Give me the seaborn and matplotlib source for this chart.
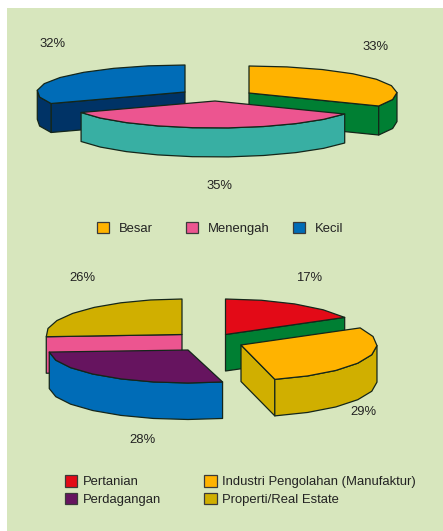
import numpy as np
import matplotlib
matplotlib.use("Agg")
import matplotlib.pyplot as plt
from matplotlib.patches import Polygon, Patch
import seaborn as sns

# ---------- data ----------
size_labels = ["Besar", "Menengah", "Kecil"]
size_values = [33, 35, 32]
sector_labels = ["Pertanian", "Industri Pengolahan (Manufaktur)", "Perdagangan", "Properti/Real Estate"]
sector_values = [17, 29, 28, 26]

# ---------- style ----------
BG = "#D7E6BD"
EDGE = "#14261A"
TXT = "#222222"
size_top = ["#FFB300", "#EC5590", "#006CB7"]
size_side = ["#007F33", "#38AFA3", "#003366"]
sector_top = ["#E30A17", "#FFB300", "#66145F", "#D0AF00"]
sector_side = ["#007F33", "#D0AF00", "#006CB7", "#EC5590"]

size_centres = [(249, 93), (215, 101), (185, 92)]
size_rx, size_ry, size_depth = [148, 148, 148], [27, 27, 27], 29
sector_centres = [(225.5, 334.5), (241, 345), (188, 350), (182, 334.5)]
sector_rx, sector_ry, sector_depth = [136, 136, 139, 136], [35.5, 35.5, 33, 35.5], 36.5

sns.set_theme(style="white")
plt.rcParams["font.family"] = ["Liberation Sans", "DejaVu Sans"]

W, H = 443, 531
L, T = 7, 8
fig = plt.figure(figsize=(W / 100, H / 100), dpi=100, facecolor="white")
ax = fig.add_axes([L / W, 0, (W - L) / W, (H - T) / H], facecolor=BG)
ax.set_xlim(L, W)
ax.set_ylim(H, T)
ax.set_xticks([])
ax.set_yticks([])
sns.despine(ax=ax, left=True, bottom=True)


def pt(c, rx, ry, deg):
    t = np.radians(deg)
    return np.column_stack([c[0] + rx * np.sin(t), c[1] - ry * np.cos(t)])


def slice3d(c, rx, ry, depth, a, b, top, side, z):
    down = np.array([0, depth])
    kw = dict(facecolor=side, edgecolor=EDGE, lw=0.9, joinstyle="round", zorder=z)
    apex = np.array(c, float)
    # cut faces that look towards the viewer
    for ang, visible in ((a, np.sin(np.radians(a)) < -1e-6), (b, np.sin(np.radians(b)) > 1e-6)):
        if visible:
            e = pt(c, rx, ry, np.array([ang]))[0]
            ax.add_patch(Polygon([apex, e, e + down, apex + down], **kw))
    # the rim is a slightly faceted polyline, like the original drawing
    angles = np.linspace(a, b, max(2, int(round((b - a) / 14))) + 1)
    rim = pt(c, rx, ry, angles)
    front = rim[(angles >= 85) & (angles <= 275)]
    if len(front) >= 2:
        ax.add_patch(Polygon(np.vstack([front, (front + down)[::-1]]), **kw))
    ax.add_patch(Polygon(np.vstack([apex, rim]), facecolor=top, edgecolor=EDGE,
                         lw=0.9, joinstyle="round", zorder=z + 0.5))


def pie3d(values, centres, rx, ry, depth, tops, sides, order):
    edges = np.concatenate([[0], np.cumsum(values)]) * 360 / np.sum(values)
    for rank, i in enumerate(order):
        slice3d(centres[i], rx[i], ry[i], depth, edges[i], edges[i + 1], tops[i], sides[i], 2 + rank)


pie3d(size_values, size_centres, size_rx, size_ry, size_depth, size_top, size_side, [2, 0, 1])
pie3d(sector_values, sector_centres, sector_rx, sector_ry, sector_depth, sector_top, sector_side, [3, 0, 2, 1])

# ---------- percentage labels ----------
size_label_xy = [(376, 47), (219, 186), (53, 44)]
sector_label_xy = [(309, 278), (363, 412), (143, 440), (82, 278)]
for vals, xys in ((size_values, size_label_xy), (sector_values, sector_label_xy)):
    for v, (x, y) in zip(vals, xys):
        ax.text(x, y, f"{v}%", ha="center", va="center", fontsize=9.4, color=TXT, zorder=20)


# ---------- legends ----------
def handles(labels, colors):
    return [Patch(facecolor=c, edgecolor="#3A3A3A", lw=0.9, label=l) for l, c in zip(labels, colors)]


leg_kw = dict(frameon=False, fontsize=9.4, handlelength=0.95, handleheight=0.95,
              labelcolor=TXT, borderpad=0, borderaxespad=0)
size_legend_x = [97, 186, 293]
for lab, col, x in zip(size_labels, size_top, size_legend_x):
    leg = ax.legend(handles=handles([lab], [col]), loc="center left",
                    bbox_to_anchor=(x, 228.5), bbox_transform=ax.transData,
                    handletextpad=0.72, **leg_kw)
    ax.add_artist(leg)

order = [0, 2, 1, 3]
ax.legend(handles=handles([sector_labels[i] for i in order], [sector_top[i] for i in order]),
          ncol=2, loc="center left", bbox_to_anchor=(65, 490.5), bbox_transform=ax.transData,
          columnspacing=3.3, handletextpad=0.42, labelspacing=0.32, **leg_kw)

fig.savefig("out.png", dpi=100, facecolor="white")
